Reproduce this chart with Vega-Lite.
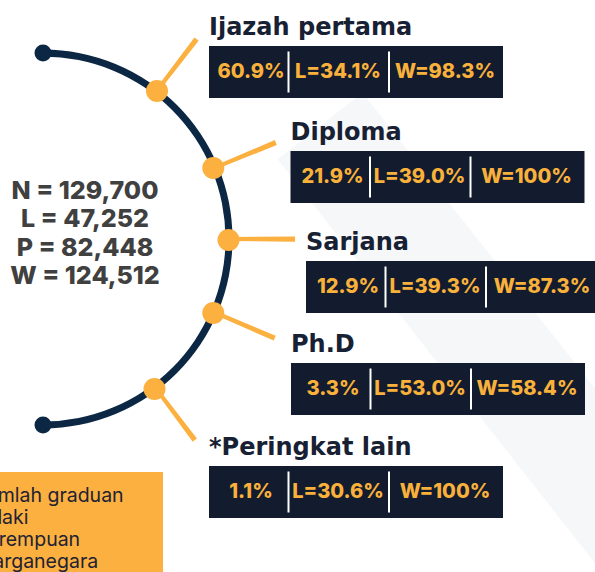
{
  "$schema": "https://vega.github.io/schema/vega-lite/v6.json",
  "width": 595,
  "height": 572,
  "padding": 0,
  "autosize": {"type": "none"},
  "background": "white",
  "config": {"view": {"stroke": null}, "axis": {"disable": true}, "legend": {"disable": true}},
  "datasets": {
    "grads": [
      {"category": "Ijazah pertama", "pct": 60.9, "L": 34.1, "W": 98.3},
      {"category": "Diploma", "pct": 21.9, "L": 39.0, "W": 100},
      {"category": "Sarjana", "pct": 12.9, "L": 39.3, "W": 87.3},
      {"category": "Ph.D", "pct": 3.3, "L": 53.0, "W": 58.4},
      {"category": "*Peringkat lain", "pct": 1.1, "L": 30.6, "W": 100}
    ],
    "totals": [
      {"key": "N", "value": 129700},
      {"key": "L", "value": 47252},
      {"key": "P", "value": 82448},
      {"key": "W", "value": 124512}
    ],
    "keys": [
      {"key": "N", "label": "Jumlah graduan"},
      {"key": "L", "label": "Lelaki"},
      {"key": "P", "label": "Perempuan"},
      {"key": "W", "label": "Warganegara"}
    ]
  },
  "resolve": {"scale": {"x": "independent", "y": "independent"}},
  "layer": [
    {
      "data": {"values": [{}]},
      "layer": [
        {
          "mark": {"type": "rule", "color": "#f6f7f8", "strokeWidth": 108, "strokeCap": "butt", "clip": true},
          "encoding": {
            "x": {"datum": 320, "type": "quantitative", "scale": {"domain": [0, 595], "nice": false, "zero": false}},
            "y": {"datum": 126, "type": "quantitative", "scale": {"domain": [0, 572], "nice": false, "zero": false, "reverse": true}},
            "x2": {"datum": 680},
            "y2": {"datum": 584}
          }
        },
        {
          "mark": {"type": "arc", "theta": 0, "theta2": 3.14159, "radius": 189.5, "radius2": 182.5, "color": "#0b2744"},
          "encoding": {
            "x": {"datum": 43, "type": "quantitative", "scale": {"domain": [0, 595], "nice": false, "zero": false}},
            "y": {"datum": 239, "type": "quantitative", "scale": {"domain": [0, 572], "nice": false, "zero": false, "reverse": true}}
          }
        },
        {
          "mark": {"type": "point", "filled": true, "opacity": 1, "size": 289, "color": "#0b2744"},
          "encoding": {
            "x": {"datum": 43, "type": "quantitative", "scale": {"domain": [0, 595], "nice": false, "zero": false}},
            "y": {"datum": 53, "type": "quantitative", "scale": {"domain": [0, 572], "nice": false, "zero": false, "reverse": true}}
          }
        },
        {
          "mark": {"type": "point", "filled": true, "opacity": 1, "size": 289, "color": "#0b2744"},
          "encoding": {
            "x": {"datum": 43, "type": "quantitative", "scale": {"domain": [0, 595], "nice": false, "zero": false}},
            "y": {"datum": 425, "type": "quantitative", "scale": {"domain": [0, 572], "nice": false, "zero": false, "reverse": true}}
          }
        },
        {
          "data": {"name": "grads"},
          "transform": [{"window": [{"op": "row_number", "as": "idx"}]}],
          "mark": {"type": "arc", "radius": 252, "radius2": 186, "thetaOffset": -0.0105, "theta2Offset": 0.0105, "color": "#fbb040"},
          "encoding": {
            "x": {"datum": 43, "type": "quantitative", "scale": {"domain": [0, 595], "nice": false, "zero": false}},
            "y": {"datum": 239, "type": "quantitative", "scale": {"domain": [0, 572], "nice": false, "zero": false, "reverse": true}},
            "theta": {"field": "idx", "type": "quantitative", "stack": false, "scale": {"domain": [1, 2, 3, 4, 5], "range": [0.655, 1.178, 1.571, 1.975, 2.495]}},
            "theta2": {"field": "idx"}
          }
        },
        {
          "mark": {"type": "rect", "color": "#fbb040", "clip": true},
          "encoding": {
            "x": {"datum": 0, "type": "quantitative", "scale": {"domain": [0, 595], "nice": false, "zero": false}},
            "x2": {"datum": 163},
            "y": {"datum": 472, "type": "quantitative", "scale": {"domain": [0, 572], "nice": false, "zero": false, "reverse": true}},
            "y2": {"datum": 590}
          }
        }
      ]
    },
    {
      "data": {"name": "grads"},
      "transform": [{"window": [{"op": "row_number", "as": "idx"}]}],
      "mark": {"type": "point", "filled": true, "opacity": 1, "size": 484, "color": "#fbb040"},
      "encoding": {
        "x": {"field": "idx", "type": "quantitative", "scale": {"domain": [1, 2, 3, 4, 5], "range": [157, 213.3, 228.5, 213.3, 154.5]}},
        "y": {"field": "idx", "type": "quantitative", "scale": {"domain": [1, 2, 3, 4, 5], "range": [91, 168, 240, 313, 389]}}
      }
    },
    {
      "data": {"name": "grads"},
      "transform": [
        {"window": [{"op": "row_number", "as": "idx"}]},
        {"calculate": "format(datum.pct, '.1f') + '%'", "as": "pctLabel"},
        {"calculate": "'L=' + format(datum.L, '.1f') + '%'", "as": "LLabel"},
        {"calculate": "'W=' + (datum.W == 100 ? '100' : format(datum.W, '.1f')) + '%'", "as": "WLabel"}
      ],
      "encoding": {
        "x": {"field": "idx", "type": "quantitative", "scale": {"domain": [1, 2, 3, 4, 5], "range": [356, 437.5, 453, 438, 356]}},
        "y": {"field": "idx", "type": "quantitative", "scale": {"domain": [1, 2, 3, 4, 5], "range": [72, 177, 287, 389, 492]}}
      },
      "layer": [
        {"mark": {"type": "rect", "width": 294, "height": 52, "color": "#121c2e"}},
        {"mark": {"type": "tick", "orient": "vertical", "size": 41, "thickness": 2, "color": "white", "opacity": 1, "xOffset": -67.5}},
        {"mark": {"type": "tick", "orient": "vertical", "size": 41, "thickness": 2, "color": "white", "opacity": 1, "xOffset": 33}},
        {
          "mark": {"type": "text", "font": "Inter", "fontWeight": 800, "fontSize": 20, "color": "#f9b13b", "align": "center", "baseline": "middle", "dx": -105},
          "encoding": {"text": {"field": "pctLabel"}}
        },
        {
          "mark": {"type": "text", "font": "Inter", "fontWeight": 800, "fontSize": 20, "color": "#f9b13b", "align": "center", "baseline": "middle", "dx": -18},
          "encoding": {"text": {"field": "LLabel"}}
        },
        {
          "mark": {"type": "text", "font": "Inter", "fontWeight": 800, "fontSize": 20, "color": "#f9b13b", "align": "center", "baseline": "middle", "dx": 89},
          "encoding": {"text": {"field": "WLabel"}}
        },
        {
          "mark": {"type": "text", "font": "DejaVu Sans", "fontWeight": "bold", "fontSize": 24, "color": "#172133", "align": "left", "baseline": "middle", "dx": -147, "dy": -44},
          "encoding": {"text": {"field": "category"}}
        }
      ]
    },
    {
      "data": {"name": "totals"},
      "transform": [{"calculate": "datum.key + ' = ' + format(datum.value, ',')", "as": "label"}],
      "mark": {"type": "text", "font": "Inter", "fontWeight": 800, "fontSize": 25, "color": "#404040", "align": "center", "baseline": "middle"},
      "encoding": {
        "x": {"datum": 85, "type": "quantitative", "scale": {"domain": [0, 595], "nice": false, "zero": false}},
        "y": {"field": "key", "type": "nominal", "sort": null, "scale": {"type": "point", "range": [191, 276], "padding": 0}},
        "text": {"field": "label"}
      }
    },
    {
      "data": {"name": "keys"},
      "mark": {"type": "text", "font": "Inter", "fontSize": 19.5, "color": "#222233", "align": "left", "baseline": "middle", "clip": true},
      "encoding": {
        "x": {"datum": -25, "type": "quantitative", "scale": {"domain": [0, 595], "nice": false, "zero": false}},
        "y": {"field": "key", "type": "nominal", "sort": null, "scale": {"type": "point", "range": [496, 562], "padding": 0}},
        "text": {"field": "label"}
      }
    }
  ]
}
